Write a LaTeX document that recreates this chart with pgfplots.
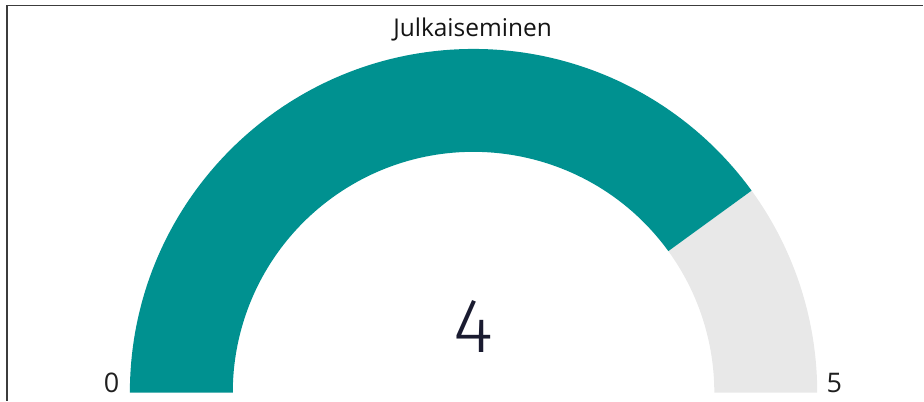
\documentclass[border=0pt]{standalone}
\usepackage{pgfplots}
\pgfplotsset{compat=1.18}
\usepackage{fontspec}
\setmainfont{Open Sans}
\newfontfamily\thinfont{Fira Sans}[UprightFont={* Light}]
\definecolor{gteal}{RGB}{0,145,144}
\definecolor{ggrey}{RGB}{232,232,232}
\definecolor{gnum}{RGB}{26,27,48}
\definecolor{gframe}{RGB}{60,60,60}
\begin{document}
\begin{tikzpicture}
\def\gval{4}\def\gmax{5}
\pgfmathsetmacro{\gang}{180-180*\gval/\gmax}
\pgfmathsetmacro{\ix}{474+241*cos(\gang)}
\pgfmathsetmacro{\iy}{8+241*sin(\gang)}
\begin{axis}[x=1pt,y=1pt,xmin=0,xmax=924,ymin=0,ymax=401,hide axis,clip=false,scale only axis]
\path (axis cs:0,0) rectangle (axis cs:924,401);
% grey remainder
\fill[ggrey] (axis cs:818,8) arc[start angle=0,end angle=\gang,radius=344]
  -- (axis cs:\ix,\iy) arc[start angle=\gang,end angle=0,radius=241] -- cycle;
% teal value
\fill[gteal] (axis cs:130,8) arc[start angle=180,end angle=\gang,radius=344]
  -- (axis cs:\ix,\iy) arc[start angle=\gang,end angle=180,radius=241] -- cycle;
\node[anchor=base east,font=\fontsize{27}{30}\selectfont,text=black!88] at (axis cs:123,8) {0};
\node[anchor=base west,font=\fontsize{27}{30}\selectfont,text=black!88] at (axis cs:824,8) {5};
\node[anchor=base,font=\thinfont\fontsize{77}{80}\selectfont,text=gnum] at (axis cs:474,48) {4};
\node[anchor=base,font=\fontsize{24.5}{28}\selectfont,text=black!92] at (axis cs:473,364) {Julkaiseminen};
\draw[gframe,line width=1.8pt] (axis cs:7,0) -- (axis cs:7,395.5) -- (axis cs:924,395.5);
\end{axis}
\end{tikzpicture}
\end{document}
